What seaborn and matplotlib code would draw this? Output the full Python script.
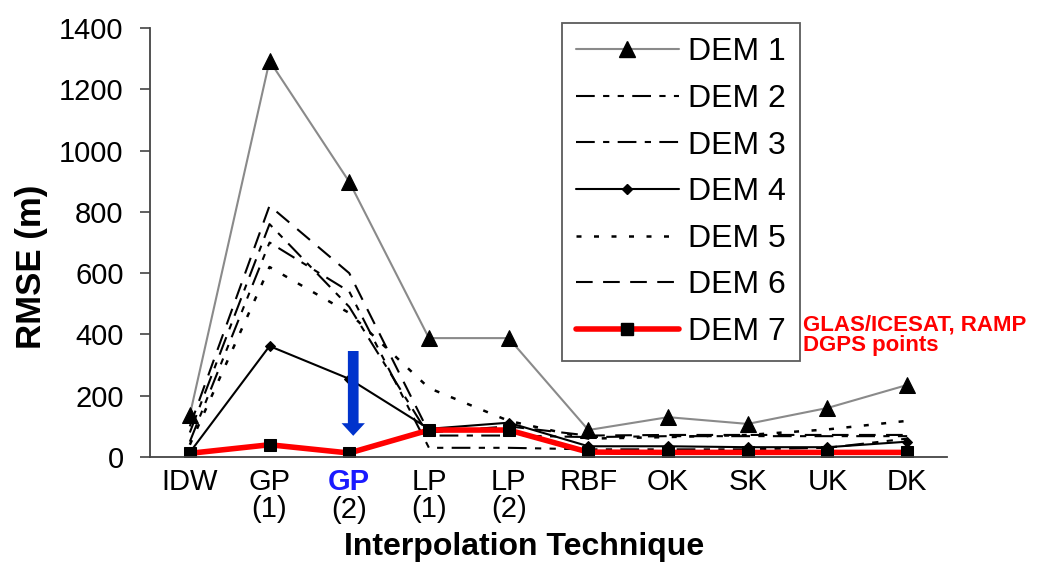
import matplotlib
matplotlib.use('Agg')
import matplotlib.pyplot as plt
import seaborn as sns
from matplotlib.lines import Line2D

# Dados (RMSE em metros)
techniques = ['IDW', 'GP (1)', 'GP (2)', 'LP (1)', 'LP (2)', 'RBF', 'OK', 'SK', 'UK', 'DK']
tick_labels = ['IDW', 'GP\n(1)', '', 'LP\n(1)', 'LP\n(2)', 'RBF', 'OK', 'SK', 'UK', 'DK']

dem1 = [137, 1293, 898, 388, 388, 88, 130, 108, 160, 235]
dem2 = [50, 700, 540, 30, 30, 25, 25, 25, 30, 60]
dem3 = [80, 760, 490, 70, 70, 65, 68, 68, 68, 68]
dem4 = [15, 362, 255, 92, 112, 35, 35, 32, 32, 50]
dem5 = [40, 620, 470, 225, 118, 60, 65, 72, 90, 118]
dem6 = [100, 820, 600, 80, 100, 70, 72, 72, 72, 72]
dem7 = [12, 40, 13, 88, 88, 16, 15, 15, 15, 15]

sns.set_style('white')
plt.rcParams['font.family'] = ['Liberation Sans', 'DejaVu Sans']
plt.rcParams['text.color'] = 'black'
plt.rcParams['axes.labelcolor'] = 'black'
plt.rcParams['xtick.color'] = 'black'
plt.rcParams['ytick.color'] = 'black'

fig = plt.figure(figsize=(10.54, 5.67), dpi=100)
ax = fig.add_axes([0.1423, 0.194, 0.7562, 0.7566])

styles = [
    ('DEM 1', dem1, dict(color='#8a8a8a', lw=1.5, ls='-', marker='^', ms=12, mfc='black', mec='black')),
    ('DEM 2', dem2, dict(color='black', lw=1.5, ls=(0, (9, 4, 3, 4, 3, 4)))),
    ('DEM 3', dem3, dict(color='black', lw=1.5, ls=(0, (9, 4, 3, 4)))),
    ('DEM 4', dem4, dict(color='black', lw=1.5, ls='-', marker='D', ms=5, mfc='black', mec='black')),
    ('DEM 5', dem5, dict(color='black', lw=1.8, ls=(0, (2, 5)))),
    ('DEM 6', dem6, dict(color='black', lw=1.5, ls=(0, (8, 5)))),
    ('DEM 7', dem7, dict(color='#ff0000', lw=4, ls='-', marker='s', ms=8, mfc='black', mec='black')),
]

handles = []
for name, vals, kw in styles:
    sns.lineplot(x=techniques, y=vals, ax=ax, sort=False, **kw)
    handles.append(Line2D([], [], label=name, **kw))

ax.set_xlim(-0.5, 9.5)
ax.set_ylim(0, 1400)
ax.set_yticks(range(0, 1401, 200))
ax.set_xticks(range(len(techniques)))
ax.set_xticklabels(tick_labels, fontsize=21, linespacing=0.95)
ax.set_xticks([i - 0.5 for i in range(len(techniques) + 1)], minor=True)
ax.tick_params(axis='x', which='major', length=0, pad=8)
ax.tick_params(axis='x', which='minor', length=7, width=1.2, color='#444444', direction='out')
ax.tick_params(axis='y', labelsize=21, length=7, width=1.2, color='#444444', direction='out',
               left=True, pad=12)

for s in ['top', 'right']:
    ax.spines[s].set_visible(False)
for s in ['left', 'bottom']:
    ax.spines[s].set_color('#444444')
    ax.spines[s].set_linewidth(1.3)

# "GP" em azul e negrito para GP (2)
ax.annotate('GP', xy=(2, 0), xycoords=('data', 'axes fraction'), xytext=(0, -8),
            textcoords='offset points', ha='center', va='top', fontsize=21,
            fontweight='bold', color='#1a1aff')
ax.annotate('(2)', xy=(2, 0), xycoords=('data', 'axes fraction'), xytext=(0, -28),
            textcoords='offset points', ha='center', va='top', fontsize=21)

ax.set_ylabel('RMSE (m)', fontsize=25, fontweight='bold')
ax.yaxis.set_label_coords(-0.128, 0.443)
ax.set_xlabel('Interpolation Technique', fontsize=23, fontweight='bold')
ax.xaxis.set_label_coords(0.47, -0.175)

# seta azul
ax.annotate('', xy=(2.05, 60), xytext=(2.05, 355),
            arrowprops=dict(arrowstyle='simple,head_width=1.2,head_length=0.65,tail_width=0.55',
                            mutation_scale=14, color='#0033cc', lw=0))

leg = ax.legend(handles=handles, loc='upper left', bbox_to_anchor=(562 / 1054, 1 - 23 / 567),
                bbox_transform=fig.transFigure, fontsize=23, handlelength=3.2,
                labelspacing=0.52, frameon=True, fancybox=False, borderaxespad=0,
                borderpad=0.45, handletextpad=0.3)
leg.get_frame().set_edgecolor('#333333')
leg.get_frame().set_linewidth(1.3)

fig.text(803 / 1054, 1 - 314 / 567, 'GLAS/ICESAT, RAMP\nDGPS points', color='#ff0000',
         fontsize=16, fontweight='bold', ha='left', va='top', linespacing=1.0)

plt.savefig('out.png', dpi=100)
